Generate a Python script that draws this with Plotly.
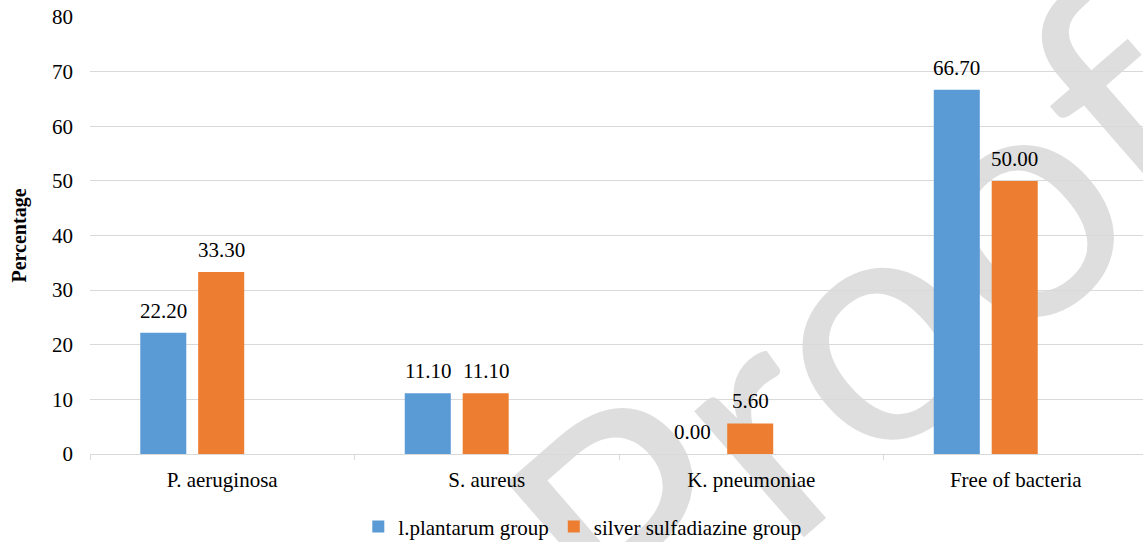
import plotly.graph_objects as go

# Data
categories = ["P. aeruginosa", "S. aureus", "K. pneumoniae", "Free of bacteria"]
series_names = ["l.plantarum group", "silver sulfadiazine group"]
plantarum = [22.20, 11.10, 0.00, 66.70]
silver = [33.30, 11.10, 5.60, 50.00]
y_ticks = [0, 10, 20, 30, 40, 50, 60, 70, 80]

BLUE = "#5B9BD5"
ORANGE = "#ED7D31"
GRID = "#D9D9D9"
SERIF = "Liberation Serif"

# bar geometry in category units (each category slot leaves room for a third, empty slot)
BAR_W = 0.174
OFFSETS = [-0.310, -0.091]

fig = go.Figure()
for name, vals, color, off in zip(series_names, [plantarum, silver], [BLUE, ORANGE], OFFSETS):
    fig.add_trace(go.Bar(
        x=categories, y=vals, name=name,
        marker=dict(color=color, line=dict(width=0)),
        width=BAR_W, offset=off,
    ))

# value labels above each bar
annotations = []
for vals, off in zip([plantarum, silver], OFFSETS):
    for i, v in enumerate(vals):
        annotations.append(dict(
            x=i + off + BAR_W / 2, y=v, xref="x", yref="y",
            text=f"{v:.2f}", showarrow=False,
            yanchor="middle", yshift=22,
            font=dict(family=SERIF, size=21, color="black"),
        ))

# "Proof" stamp drawn behind the plot
shapes = [dict(
    type="rect", xref="paper", yref="paper",
    x0=0.723, x1=0.725, y0=0.305, y1=0.307,
    line=dict(width=0), fillcolor="rgba(0,0,0,0)", layer="below",
    label=dict(text="Proof", textangle=-41, textposition="middle center",
               font=dict(family="Lato", size=330, color="#DEDEDE")),
)]

fig.update_layout(
    width=1143, height=542,
    margin=dict(l=90, r=0, t=17, b=88, autoexpand=False),
    paper_bgcolor="white", plot_bgcolor="rgba(0,0,0,0)",
    font=dict(family=SERIF, size=21, color="black"),
    barmode="group",
    showlegend=True,
    legend=dict(orientation="h", x=0.468, xanchor="center",
                yref="container", y=0.028, yanchor="middle",
                font=dict(family=SERIF, size=21, color="black"),
                bgcolor="rgba(0,0,0,0)"),
    annotations=annotations,
    shapes=shapes,
)

fig.update_xaxes(
    type="category", range=[-0.5, 3.481],
    showgrid=False, showline=True, linecolor=GRID, linewidth=1,
    ticks="outside", tickson="boundaries", ticklen=5, tickcolor=GRID, tickwidth=1,
    ticklabelstandoff=7,
    tickfont=dict(family=SERIF, size=21, color="black"),
)
fig.update_yaxes(
    range=[0, 80], tickvals=y_ticks,
    showgrid=True, gridcolor=GRID, gridwidth=1,
    zeroline=False, showline=False, ticks="",
    ticklabelstandoff=16,
    tickfont=dict(family=SERIF, size=21, color="black"),
    title=dict(text="<b>Percentage</b>", standoff=20,
               font=dict(family=SERIF, size=20, color="black")),
)

fig.write_html("out.html")
